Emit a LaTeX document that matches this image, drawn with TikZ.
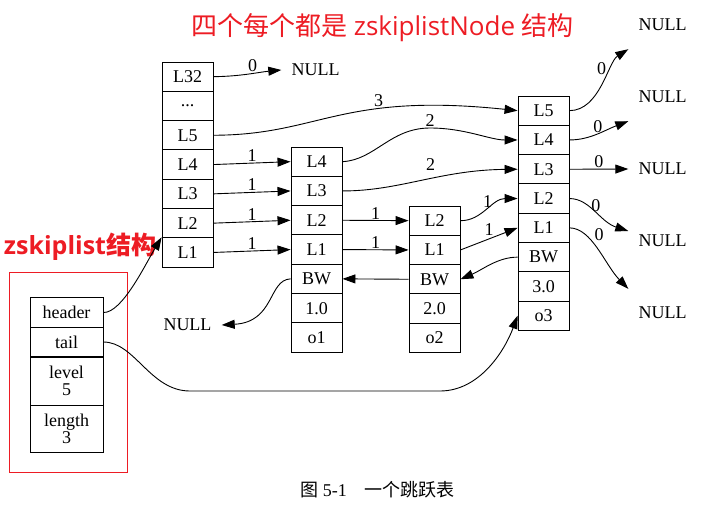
\documentclass[tikz,border=0pt]{standalone}
\usepackage{fontspec}
\setmainfont{Liberation Serif}
\newfontfamily\cjk{Noto Sans CJK SC}
\newfontfamily\opensans{Open Sans}
\usepackage{tikz}
\usetikzlibrary{arrows.meta}
\definecolor{notered}{RGB}{237,28,36}
\tikzset{
  cell/.style={draw, line width=0.9pt, minimum width=51pt, minimum height=29.3pt, inner sep=0pt, font=\fontsize{18}{17}\selectfont},
  nullnode/.style={minimum width=68pt, minimum height=48pt, inner sep=0pt, font=\fontsize{18}{20}\selectfont},
  lbl/.style={inner sep=1pt, font=\fontsize{18}{20}\selectfont},
  ptr/.style={line width=0.9pt, -{Triangle[length=13pt,width=9pt]}},
}

\begin{document}
\begin{tikzpicture}[x=1pt,y=-1pt]
	\useasboundingbox (0,0) rectangle (728,515);

	% draw header column
	\foreach \lab [count=\i] in {L32,.{}.{}.,L5,L4,L3,L2,L1}
	\node[cell] (hdr-\i) at (187.5,47.35+29.3*\i) {\lab};

	% draw list nodes
	\foreach \lab [count=\i] in {L4,L3,L2,L1,BW,1.0,o1}
	\node[cell] (nd1-\i) at (316.5,132.35+29.3*\i) {\lab};
	\foreach \lab [count=\i] in {L2,L1,BW,2.0,o2}
	\node[cell] (nd2-\i) at (434.5,191.35+29.3*\i) {\lab};
	\foreach \lab [count=\i] in {L5,L4,L3,L2,L1,BW,3.0,o3}
	\node[cell] (nd3-\i) at (543.5,81.35+29.3*\i) {\lab};

	% draw zskiplist
	\node[cell, minimum width=73pt] (zl-1) at (66.5,312.5) {header};
	\node[cell, minimum width=73pt] (zl-2) at (66.5,342) {tail};
	\node[cell, minimum width=73pt, minimum height=48pt, align=center] (zl-3) at (66.5,381) {level\\5};
	\node[cell, minimum width=73pt, minimum height=47pt, align=center] (zl-4) at (66.5,428.5) {length\\3};
	\draw[notered, line width=0.6pt] (9.5,272.5) rectangle (127.5,472.5);

	% draw NULL nodes
	\node[nullnode] (null0) at (315.5,70) {NULL};
	\node[nullnode] (nullL) at (187.5,325) {NULL};
	\foreach \y [count=\i] in {25,97,169,241,313}
	\node[nullnode] (nullR\i) at (662.5,\y) {NULL};

	% draw texts
	\node[text=notered, font=\opensans\fontsize{26}{30}\selectfont] (title) at (382.5,28) {{\cjk 四个每个都是} zskiplistNode {\cjk 结构}};
	\node[text=notered, font=\opensans\bfseries\fontsize{25}{30}\selectfont] (zltitle) at (80,246.5) {zskiplist{\cjk 结构}};
	\node[font=\fontsize{18}{20}\selectfont] (caption) at (377.5,490) {{\cjk 图} 5-1\quad{\cjk 一个跳跃表}};

	% draw forward pointers
	\draw[ptr] (hdr-1.east) .. controls (240,76.5) and (260,72) .. (null0.west) node[lbl, pos=0.55, above] {0};
	\draw[ptr] (hdr-3.east) .. controls (320,135) and (340,92) .. (nd3-1.west) node[lbl, pos=0.65, above=1pt] {3};
	\foreach \i/\j in {4/1,5/2,6/3,7/4}
	\draw[ptr] (hdr-\i.east) -- (nd1-\j.west) node[lbl, midway, above] {1};
	\draw[ptr] (nd1-1.east) .. controls (375,160) and (390,128) .. (430,128) node[lbl, above] {2} .. controls (465,128) and (490,140) .. (nd3-2.west);
	\draw[ptr] (nd1-2.east) .. controls (400,191) and (440,170) .. (nd3-3.west) node[lbl, pos=0.55, above=7pt] {2};
	\draw[ptr] (nd1-3.east) -- (nd2-1.west) node[lbl, midway, above] {1};
	\draw[ptr] (nd1-4.east) -- (nd2-2.west) node[lbl, midway, above] {1};
	\draw[ptr] (nd2-1.east) .. controls (482,221) and (492,198.5) .. (nd3-4.west) node[lbl, midway, above=1pt] {1};
	\draw[ptr] (nd2-2.east) -- (nd3-5.west) node[lbl, midway, above=2pt] {1};

	% draw NULL pointers
	\draw[ptr] (nd3-1.east) .. controls (600,110.5) and (608,62) .. (nullR1.south west) node[lbl, pos=0.6, above left=0pt] {0};
	\draw[ptr] (nd3-2.east) .. controls (590,140) and (605,130) .. (nullR2.south west) node[lbl, midway, above] {0};
	\draw[ptr] (nd3-3.east) -- (nullR3.west) node[lbl, midway, above] {0};
	\draw[ptr] (nd3-4.east) .. controls (590,198.5) and (600,222) .. ([yshift=10pt]nullR4.west) node[lbl, midway, above=-2pt] {0};
	\draw[ptr] (nd3-5.east) .. controls (592,228) and (605,265) .. (nullR5.north west) node[lbl, pos=0.4, above right=0pt] {0};

	% draw backward pointers
	\draw[ptr] (nd2-3.west) -- (nd1-5.east);
	\draw[ptr] (nd3-6.west) .. controls (498,257) and (482,270) .. (nd2-3.east);
	\draw[ptr] (nd1-5.west) .. controls (268,280) and (275,322) .. (nullL.east);

	% draw zskiplist pointers
	\draw[ptr] (zl-1.east) .. controls (122,313) and (145,265) .. (hdr-7.north west);
	\draw[ptr] (zl-2.east) .. controls (135,342) and (150,391) .. (190,391) -- (440,391) .. controls (480,391) and (505,350) .. (nd3-8.west);
\end{tikzpicture}
\end{document}
